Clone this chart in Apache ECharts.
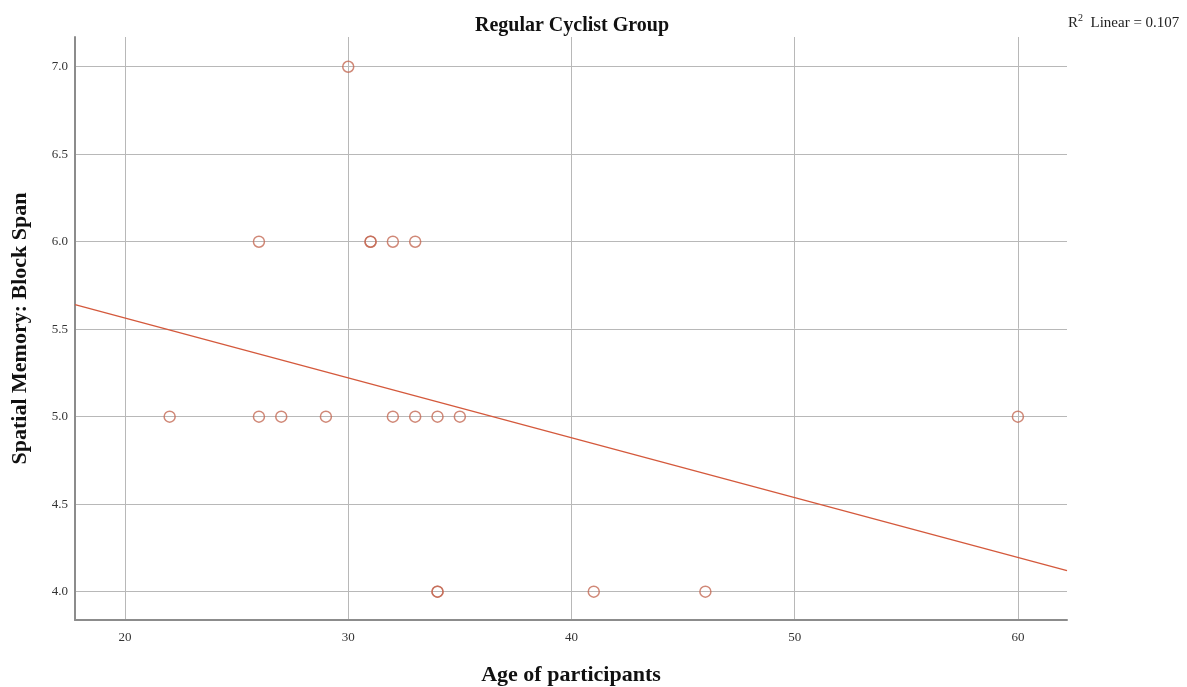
<!DOCTYPE html>
<html>
<head>
<meta charset="utf-8">
<script src="https://cdn.jsdelivr.net/npm/echarts@6/dist/echarts.min.js"></script>
<style>
  html, body { margin: 0; padding: 0; background: #fff; }
  #chart { width: 1187px; height: 687px; }
</style>
</head>
<body>
<div id="chart"></div>
<script>
// Age of each participant and their block span score
const ages  = [30, 26, 31, 31, 32, 33, 22, 26, 27, 29, 32, 33, 34, 35, 60, 34, 34, 41, 46];
const spans = [ 7,  6,  6,  6,  6,  6,  5,  5,  5,  5,  5,  5,  5,  5,  5,  4,  4,  4,  4];

// Fitted linear trend, end points across the axis range
const fitX = [17.76, 62.2];
const fitY = [5.64, 4.12];

const xTicks = [20, 30, 40, 50, 60];
const yTicks = [4.0, 4.5, 5.0, 5.5, 6.0, 6.5, 7.0];
const r2Text = '0.107';

const font = '"Liberation Serif", "DejaVu Serif", serif';
const pointColor = '#c46a55';
const lineColor = '#d4593c';

const points = ages.map((a, i) => [a, spans[i]]);
const fitLine = fitX.map((x, i) => [x, fitY[i]]);

const chart = echarts.init(document.getElementById('chart'));
chart.setOption({
  backgroundColor: '#ffffff',
  animation: false,
  title: {
    text: 'Regular Cyclist Group',
    left: 567,
    top: 11,
    textAlign: 'center',
    textStyle: { fontFamily: font, fontSize: 20, fontWeight: 'bold', color: '#111' }
  },
  graphic: [{
    type: 'text',
    left: 1068,
    top: 13,
    style: {
      text: '{n|R}{s|2}{n|  Linear = ' + r2Text + '}',
      rich: {
        n: { fontFamily: font, fontSize: 15, fill: '#222', verticalAlign: 'bottom', lineHeight: 18 },
        s: { fontFamily: font, fontSize: 10, fill: '#222', verticalAlign: 'top', lineHeight: 18, padding: [0, 0, 7, 0] }
      }
    }
  }],
  grid: { left: 75, right: 120, top: 37, bottom: 67, containLabel: false, outerBoundsMode: 'none' },
  xAxis: {
    type: 'value',
    min: 17.76,
    max: 62.2,
    name: 'Age of participants',
    nameLocation: 'middle',
    nameGap: 44,
    nameTextStyle: { fontFamily: font, fontSize: 22, fontWeight: 'bold', color: '#111' },
    axisLine: { show: true, onZero: false, lineStyle: { color: '#8c8c8c', width: 2 } },
    axisTick: { show: false, customValues: xTicks },
    axisLabel: {
      customValues: xTicks,
      fontFamily: font, fontSize: 13, color: '#333', margin: 11,
      formatter: v => String(v)
    },
    splitLine: { show: true, lineStyle: { color: '#b8b8b8', width: 1 } }
  },
  yAxis: {
    type: 'value',
    min: 3.838,
    max: 7.17,
    name: 'Spatial Memory: Block Span',
    nameLocation: 'middle',
    nameGap: 44,
    nameTextStyle: { fontFamily: font, fontSize: 22, fontWeight: 'bold', color: '#111' },
    axisLine: { show: true, onZero: false, lineStyle: { color: '#8c8c8c', width: 2 } },
    axisTick: { show: false, customValues: yTicks },
    axisLabel: {
      customValues: yTicks,
      fontFamily: font, fontSize: 13, color: '#333', margin: 7,
      formatter: v => v.toFixed(1)
    },
    splitLine: { show: true, lineStyle: { color: '#b8b8b8', width: 1 } }
  },
  series: [
    {
      type: 'line',
      data: fitLine,
      showSymbol: false,
      symbol: 'none',
      lineStyle: { color: lineColor, width: 1.3 },
      silent: true,
      z: 2
    },
    {
      type: 'scatter',
      data: points,
      symbol: 'circle',
      symbolSize: 11,
      itemStyle: { color: 'rgba(255,255,255,0)', borderColor: pointColor, borderWidth: 1.5 },
      z: 3
    }
  ]
});
</script>
</body>
</html>
